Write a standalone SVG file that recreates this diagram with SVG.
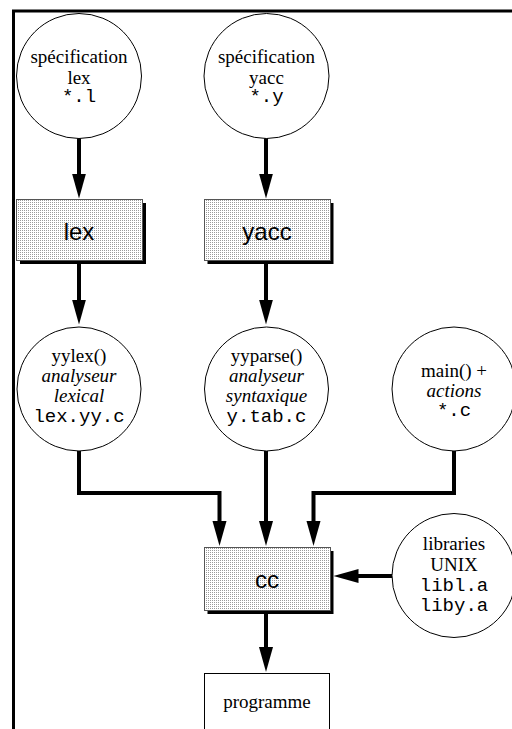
<svg xmlns="http://www.w3.org/2000/svg" width="512" height="729" viewBox="0 0 512 729">
<defs>
<pattern id="dots" width="2" height="2" patternUnits="userSpaceOnUse">
<rect width="2" height="2" fill="#ffffff"/>
<rect width="1" height="1" fill="#9a9a9a"/>
</pattern>
<marker id="ah" markerUnits="userSpaceOnUse" markerWidth="26" markerHeight="16" viewBox="0 0 26 16" refX="0.5" refY="8" orient="auto">
<path d="M0,1 L25,8 L0,15 Z" fill="#000"/>
</marker>
</defs>
<style>
.c{fill:#fff;stroke:#000;stroke-width:1}
.b{fill:url(#dots);stroke:#555;stroke-width:1}
.sh{fill:#000}
.t{font-family:"Liberation Serif","Times New Roman",serif;font-size:19px;text-anchor:middle;fill:#000}
.i{font-style:italic}
.m{font-family:"Liberation Mono","Courier New",monospace;font-size:19px;text-anchor:middle;fill:#000}
.s{font-family:"Liberation Sans",Arial,sans-serif;font-size:24px;text-anchor:middle;fill:#000}
.e{fill:none;stroke:#000;stroke-width:4}
</style>
<path d="M13.5,729 V11 H512" fill="none" stroke="#000" stroke-width="3"/>
<g id="connectors">
<path class="e" d="M79,138 V174" marker-end="url(#ah)"/>
<path class="e" d="M266,138 V174" marker-end="url(#ah)"/>
<path class="e" d="M79,263 V300" marker-end="url(#ah)"/>
<path class="e" d="M266,263 V300" marker-end="url(#ah)"/>
<path class="e" d="M79,451 V493 H219.5 V521.5" marker-end="url(#ah)"/>
<path class="e" d="M266,451 V521.5" marker-end="url(#ah)"/>
<path class="e" d="M454,451 V493 H313.5 V521.5" marker-end="url(#ah)"/>
<path class="e" d="M392,576 H358" marker-end="url(#ah)"/>
<path class="e" d="M266,613 V647.5" marker-end="url(#ah)"/>
</g>
<g id="spec-lex">
<circle class="c" cx="79" cy="76" r="62.5"/>
<text class="t" x="79" y="63">spécification</text>
<text class="t" x="79" y="84">lex</text>
<text class="m" x="79" y="102">*.l</text>
</g>
<g id="spec-yacc">
<circle class="c" cx="266.5" cy="76" r="62.5"/>
<text class="t" x="266.5" y="63">spécification</text>
<text class="t" x="266.5" y="84">yacc</text>
<text class="m" x="266.5" y="102">*.y</text>
</g>
<g id="lex">
<rect class="sh" x="20" y="203" width="126" height="61"/>
<rect class="b" x="16.5" y="199.5" width="126" height="61"/>
<text class="s" x="79" y="240">lex</text>
</g>
<g id="yacc">
<rect class="sh" x="207.5" y="203" width="126" height="61"/>
<rect class="b" x="204.5" y="199.5" width="126" height="61"/>
<text class="s" x="267" y="240">yacc</text>
</g>
<g id="yylex">
<circle class="c" cx="79" cy="389" r="62"/>
<text class="t" x="79" y="362">yylex()</text>
<text class="t i" x="79" y="382">analyseur</text>
<text class="t i" x="79" y="402">lexical</text>
<text class="m" x="79" y="422">lex.yy.c</text>
</g>
<g id="yyparse">
<circle class="c" cx="266.5" cy="389" r="62"/>
<text class="t" x="266.5" y="362">yyparse()</text>
<text class="t i" x="266.5" y="382">analyseur</text>
<text class="t i" x="266.5" y="402">syntaxique</text>
<text class="m" x="266.5" y="422">y.tab.c</text>
</g>
<g id="main">
<circle class="c" cx="454" cy="389" r="62"/>
<text class="t" x="454" y="377">main() +</text>
<text class="t i" x="454" y="397">actions</text>
<text class="m" x="454" y="416">*.c</text>
</g>
<g id="cc">
<rect class="sh" x="207.5" y="551" width="126" height="63"/>
<rect class="b" x="204.5" y="547.5" width="126" height="63"/>
<text class="s" x="267" y="588">cc</text>
</g>
<g id="libraries">
<circle class="c" cx="454" cy="575.5" r="62"/>
<text class="t" x="454" y="550">libraries</text>
<text class="t" x="454" y="571">UNIX</text>
<text class="m" x="454" y="591">libl.a</text>
<text class="m" x="454" y="611">liby.a</text>
</g>
<g id="programme">
<rect class="c" x="204.5" y="673.5" width="125" height="60"/>
<text class="t" x="267" y="708">programme</text>
</g>
</svg>
